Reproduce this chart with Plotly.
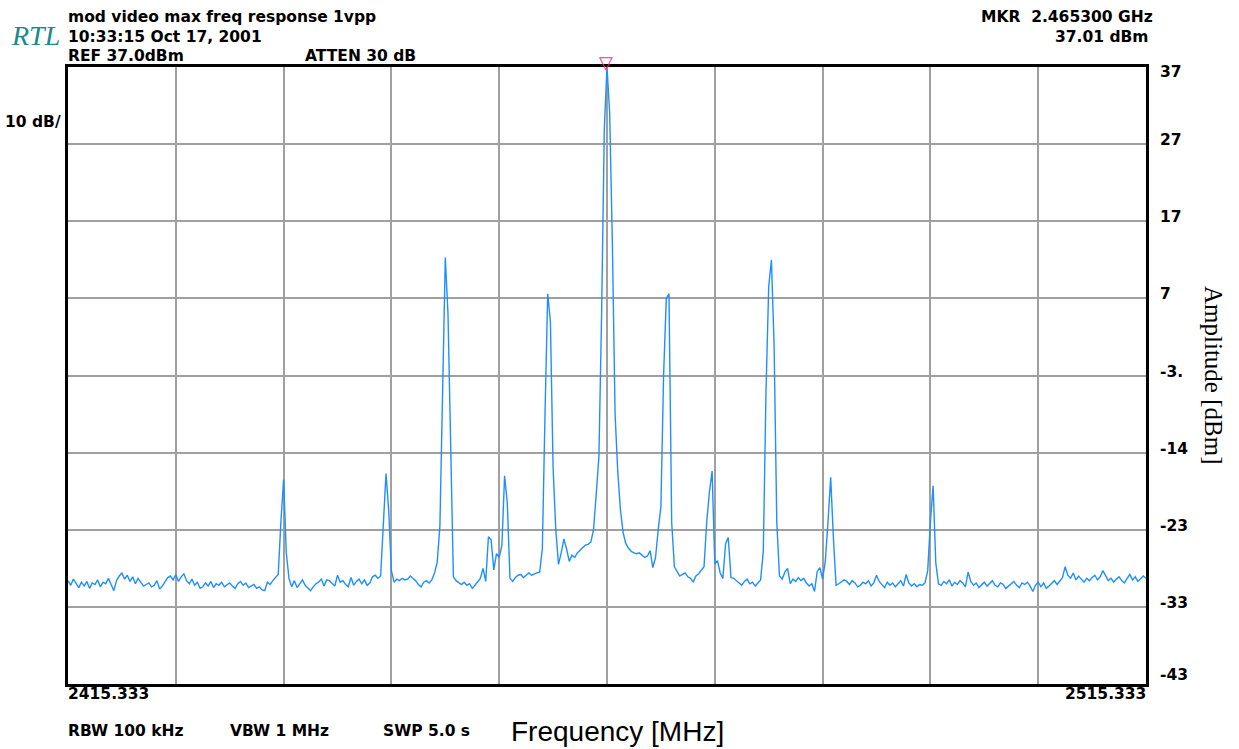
import plotly.graph_objects as go

# ---------------- data ----------------
freq_start_mhz = 2415.333
freq_stop_mhz = 2515.333
freq_step_mhz = 0.25

amplitude_dbm = [
    -29.6, -30.2, -29.4, -30.0, -30.5, -29.8, -30.3, -29.7, -30.6, -29.9,   # 0
    -30.1, -29.5, -30.4, -29.8, -30.0, -29.3, -30.2, -30.9, -29.6, -29.0,   # 10
    -28.6, -29.4, -28.9, -29.7, -29.1, -30.0, -29.3, -29.8, -30.3, -30.1,   # 20
    -29.9, -30.4, -30.2, -29.6, -30.7, -30.3, -29.8, -29.2, -29.0, -29.5,   # 30
    -28.8, -29.7, -29.1, -28.7, -29.6, -30.0, -29.4, -30.2, -29.8, -30.6,   # 40
    -30.4, -29.9, -30.3, -29.7, -30.5, -30.0, -30.2, -29.8, -30.4, -30.1,   # 50
    -29.9, -30.3, -30.6, -30.0, -29.7, -30.2, -29.9, -30.5, -30.3, -30.1,   # 60
    -30.6, -30.4, -30.8, -30.9, -29.8, -30.1, -29.6, -29.2, -28.8, -22.0,   # 70
    -16.5, -26.0, -29.3, -30.4, -29.6, -30.5, -30.0, -29.5, -30.2, -30.6,   # 80
    -30.9, -30.4, -30.0, -29.8, -29.4, -30.3, -29.5, -29.6, -29.9, -30.3,   # 90
    -28.9, -29.8, -29.6, -30.1, -30.4, -29.2, -30.2, -29.7, -29.4, -30.0,   # 100
    -29.5, -30.2, -29.9, -29.1, -28.9, -29.3, -29.0, -22.1, -15.7, -20.5,   # 110
    -28.3, -29.8, -29.4, -29.6, -29.3, -29.5, -29.4, -29.0, -29.3, -29.6,   # 120
    -30.1, -30.4, -29.8, -29.6, -29.9, -29.5, -28.6, -27.2, -22.5, -3.0,    # 130
    12.3, 5.0, -10.8, -29.1, -29.6, -29.9, -30.1, -29.8, -30.2, -30.0,      # 140
    -30.6, -30.2, -29.8, -29.3, -28.0, -29.7, -23.9, -24.3, -28.2, -26.1,   # 150
    -26.6, -25.0, -16.0, -19.5, -29.3, -29.7, -29.2, -28.9, -28.8, -29.2,   # 160
    -28.9, -28.6, -28.9, -28.7, -28.6, -28.5, -25.5, -8.0, 7.6, 4.0,        # 170
    -15.0, -23.0, -27.5, -26.0, -24.2, -25.5, -27.1, -26.3, -26.6, -26.0,   # 180
    -25.6, -25.3, -25.0, -24.9, -24.6, -23.0, -18.4, -13.5, 5.0, 29.0,      # 190
    37.01, 31.0, 14.0, -8.0, -15.5, -20.5, -23.4, -24.8, -25.4, -25.8,      # 200
    -26.0, -26.1, -26.0, -26.3, -26.6, -26.4, -25.7, -27.9, -26.6, -23.0,   # 210
    -20.0, -3.0, 7.0, 7.6, -22.0, -27.8, -28.4, -29.0, -28.8, -28.6,        # 220
    -29.1, -29.3, -29.8, -29.0, -28.7, -28.3, -27.8, -22.0, -18.1, -15.4,   # 230
    -27.4, -27.0, -28.6, -29.3, -24.8, -24.0, -29.2, -29.3, -29.6, -29.9,   # 240
    -30.2, -29.7, -29.4, -30.0, -29.8, -30.3, -29.9, -29.5, -25.8, -5.0,    # 250
    8.5, 12.0, 1.0, -22.0, -29.0, -29.4, -28.5, -28.0, -30.0, -29.4,        # 260
    -29.7, -29.2, -29.6, -29.3, -29.9, -30.3, -30.0, -31.0, -28.4, -27.9,   # 270
    -29.4, -27.1, -22.0, -16.2, -24.0, -30.2, -30.0, -29.8, -29.5, -29.7,   # 280
    -30.1, -29.6, -29.9, -30.4, -30.2, -29.8, -30.0, -29.6, -30.3, -29.9,   # 290
    -28.9, -29.7, -30.1, -30.5, -29.8, -30.2, -29.9, -30.4, -30.0, -29.6,   # 300
    -30.3, -28.8, -29.9, -30.3, -30.0, -30.4, -30.1, -30.2, -29.9, -28.3,   # 310
    -22.0, -17.3, -27.3, -30.0, -30.2, -29.7, -30.0, -29.5, -30.3, -29.8,   # 320
    -30.1, -29.6, -29.9, -30.4, -28.5, -29.7, -30.2, -29.9, -30.5, -30.1,   # 330
    -29.8, -30.3, -30.0, -29.6, -30.2, -30.4, -29.9, -30.1, -30.6, -30.3,   # 340
    -30.0, -29.7, -30.2, -30.5, -29.9, -30.1, -29.8, -30.3, -31.0, -30.2,   # 350
    -29.8, -30.4, -29.9, -30.6, -30.3, -30.0, -29.6, -30.1, -29.7, -29.2,   # 360
    -27.8, -28.9, -29.3, -28.6, -29.5, -29.0, -29.4, -29.8, -29.3, -29.6,   # 370
    -29.2, -28.9, -29.5, -29.1, -28.3, -29.0, -29.6, -29.3, -29.8, -29.4,   # 380
    -29.1, -29.6, -29.9, -29.3, -28.8, -29.5, -29.1, -29.7, -29.4, -29.0,   # 390
    -29.3,                                                                  # 400
]

ytick_vals = [37, 27, 17, 7, -3, -13, -23, -33, -43]
ytick_text = ["37", "27", "17", "7", "-3.", "-14", "-23", "-33", "-43"]
xgrid_vals = [2425.333, 2435.333, 2445.333, 2455.333, 2465.333,
              2475.333, 2485.333, 2495.333, 2505.333]

marker_freq_mhz = 2465.333
marker_amp_dbm = 37.01

freq_mhz = [freq_start_mhz + freq_step_mhz * i for i in range(len(amplitude_dbm))]

# ---------------- figure ----------------
L, R, T, B = 68, 1146, 67, 684
W, H = 1239, 749


def px_x(px):
    return (px - L) / (R - L)


def px_y(py):
    return (B - py) / (B - T)


BOLD = "DejaVu Sans"
fig = go.Figure()

fig.add_trace(go.Scatter(
    x=freq_mhz, y=amplitude_dbm, mode="lines",
    line=dict(color="#1f8fff", width=1.4),
    hoverinfo="skip", showlegend=False,
))

annotations = []

# marker flag (pink open down-triangle sitting on the peak, above the frame)
annotations.append(dict(
    text="<b>\u25bd</b>", xref="x", yref="paper", x=marker_freq_mhz, y=1.0,
    xanchor="center", yanchor="bottom", yshift=-8, xshift=-1, showarrow=False,
    font=dict(family="DejaVu Sans", size=18, color="#ff2a8a")))


def txt(text, px, py, xanchor="left", size=16, family=BOLD, color="black",
        weight="bold", style="normal", **kw):
    annotations.append(dict(
        text=text, xref="paper", yref="paper", x=px_x(px), y=px_y(py),
        xanchor=xanchor, yanchor="middle", showarrow=False,
        font=dict(family=family, size=size, color=color, weight=weight, style=style),
        **kw))


txt("mod video max freq response 1vpp", 66, 17, size=15.5)
txt("10:33:15 Oct 17, 2001", 66, 37, size=15.5)
txt("REF 37.0dBm", 66, 56, size=15.5)
txt("ATTEN 30 dB", 303, 56, size=15.5)
txt("MKR\u00a0\u00a02.465300 GHz", 1155, 17, xanchor="right", size=15.5)
txt("37.01 dBm", 1150, 37, xanchor="right", size=15.5)
txt("RTL", 9, 35, size=28, family="Liberation Serif", color="#1a8a8a",
    weight="normal", style="italic")
txt("10 dB/", 3, 122, size=15.5)
txt("2415.333", 66, 694, size=15.5)
txt("2515.333", 1148, 694, xanchor="right", size=15.5)
txt("RBW 100 kHz", 66, 731, size=15.5)
txt("VBW 1 MHz", 228, 731, size=15.5)
txt("SWP 5.0 s", 381, 731, size=15.5)
txt("Frequency [MHz]", 509, 731, size=28, family="Liberation Sans", weight="normal")

annotations.append(dict(
    text="Amplitude [dBm]", xref="paper", yref="paper", x=px_x(1214), y=px_y(375),
    xanchor="center", yanchor="middle", textangle=90, showarrow=False,
    font=dict(family="Liberation Serif", size=25, color="black")))

for v, t in zip(ytick_vals, ytick_text):
    shift = 4
    if v == ytick_vals[0]:
        shift = -5
    elif v == ytick_vals[-1]:
        shift = 9
    annotations.append(dict(
        text=t, xref="paper", yref="y", x=1.0, y=v, xshift=12, yshift=shift,
        xanchor="left", yanchor="middle", showarrow=False,
        font=dict(family=BOLD, size=15.5, color="black", weight="bold")))

fig.update_layout(
    width=W, height=H, autosize=False,
    margin=dict(l=L, r=W - R, t=T, b=H - B, pad=0),
    paper_bgcolor="white", plot_bgcolor="white",
    showlegend=False,
    annotations=annotations,
    xaxis=dict(range=[freq_start_mhz, freq_stop_mhz], tickvals=xgrid_vals,
               showticklabels=False, ticks="", showgrid=True,
               gridcolor="#a0a0a0", gridwidth=2, zeroline=False,
               showline=True, linecolor="black", linewidth=3, mirror=True),
    yaxis=dict(range=[-43, 37], tickvals=ytick_vals, showticklabels=False,
               ticks="", showgrid=True, gridcolor="#a0a0a0", gridwidth=2,
               zeroline=False, showline=True, linecolor="black", linewidth=3,
               mirror=True),
)

fig.write_html("out.html", config={"displayModeBar": False},
               post_script="document.body.style.margin='0';document.body.style.overflow='hidden';")
